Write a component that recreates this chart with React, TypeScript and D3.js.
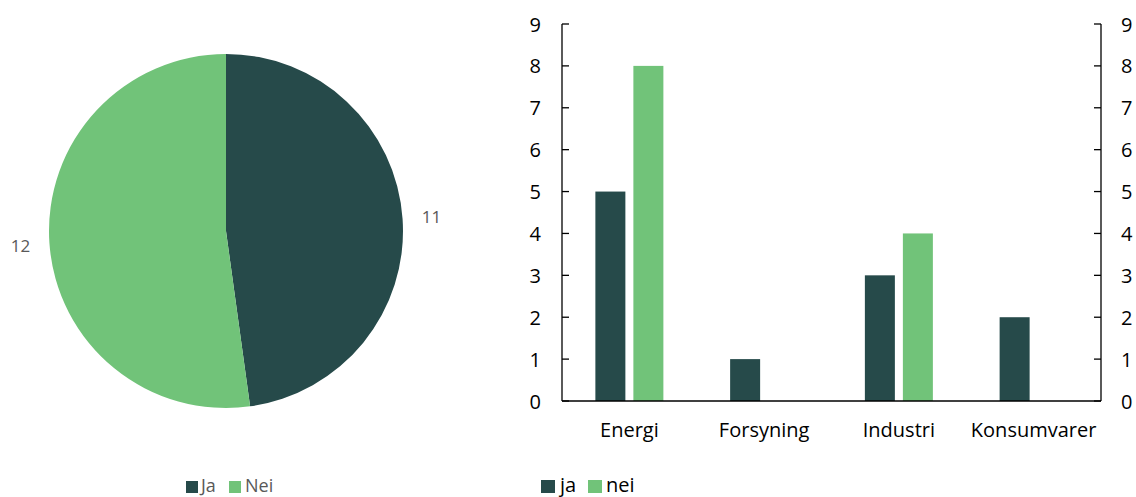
import React from "react";
import * as d3 from "d3";

// Pie: answers overall
const pieLabels = ["Ja", "Nei"];
const pieValues = [11, 12];

// Bars: answers per sector
const sectors = ["Energi", "Forsyning", "Industri", "Konsumvarer"];
const jaValues = [5, 1, 3, 2];
const neiValues = [8, 0, 4, 0];
const seriesNames = ["ja", "nei"];
const yTicks = [0, 1, 2, 3, 4, 5, 6, 7, 8, 9];

const DARK = "#264a4a";
const GREEN = "#71c379";
const W = 1136;
const H = 497;
const FONT = "'Open Sans', sans-serif";

export default function App() {
  // pie geometry
  const cx = 226, cy = 231, r = 177;
  const pie = d3.pie<number>().sort(null).value((d) => d);
  const arcs = pie(pieValues);
  const arcGen = d3.arc<d3.PieArcDatum<number>>().innerRadius(0).outerRadius(r);
  const labelArc = d3.arc<d3.PieArcDatum<number>>().innerRadius(r + 29).outerRadius(r + 29);
  const pieColors = [DARK, GREEN];

  // bar geometry
  const x0 = 562, x1 = 1101, yTop = 24, yBot = 401;
  const x = d3.scaleBand<string>().domain(sectors).range([x0, x1]);
  const y = d3.scaleLinear().domain([0, 9]).range([yBot, yTop]);
  const barW = 30, gap = 8;
  const series = [jaValues, neiValues];

  return (
    <svg width={W} height={H} style={{ position: "absolute", left: 0, top: 0 }}>
      <rect width={W} height={H} fill="#fff" />
      {/* pie */}
      <g transform={`translate(${cx},${cy})`}>
        {arcs.map((a, i) => (
          <path key={i} d={arcGen(a) || ""} fill={pieColors[i]} />
        ))}
        {arcs.map((a, i) => {
          const [lx, ly] = labelArc.centroid(a);
          return (
            <text key={i} x={lx} y={ly} textAnchor="middle" dominantBaseline="central"
              fontFamily={FONT} fontSize={17} fill="#595959">
              {a.data}
            </text>
          );
        })}
      </g>
      {/* pie legend */}
      <g fontFamily={FONT} fontSize={18} fill="#595959">
        <rect x={186} y={481} width={12} height={12} fill={DARK} />
        <text x={201} y={492}>{pieLabels[0]}</text>
        <rect x={229} y={481} width={12} height={12} fill={GREEN} />
        <text x={245} y={492}>{pieLabels[1]}</text>
      </g>

      {/* bars */}
      {sectors.map((s, si) => {
        const c = (x(s) || 0) + x.bandwidth() / 2;
        return series.map((vals, k) => {
          const v = vals[si];
          if (!v) return null;
          const bx = k === 0 ? c - gap / 2 - barW : c + gap / 2;
          return (
            <rect key={`${si}-${k}`} x={bx} y={y(v)} width={barW} height={y(0) - y(v)}
              fill={k === 0 ? DARK : GREEN} />
          );
        });
      })}

      {/* axes */}
      <g stroke="#000" strokeWidth={1.3} fill="none">
        <line x1={x0} y1={yTop} x2={x0} y2={yBot} />
        <line x1={x1} y1={yTop} x2={x1} y2={yBot} />
        <line x1={x0} y1={yBot} x2={x1} y2={yBot} />
        {yTicks.map((t) => (
          <g key={t}>
            <line x1={x0} y1={y(t)} x2={x0 + 7} y2={y(t)} />
            <line x1={x1 - 7} y1={y(t)} x2={x1} y2={y(t)} />
          </g>
        ))}
      </g>
      <g fontFamily={FONT} fontSize={20} fill="#000">
        {yTicks.map((t) => (
          <g key={t}>
            <text x={541} y={y(t)} textAnchor="end" dominantBaseline="central">{t}</text>
            <text x={1121} y={y(t)} textAnchor="start" dominantBaseline="central">{t}</text>
          </g>
        ))}
        {sectors.map((s) => (
          <text key={s} x={(x(s) || 0) + x.bandwidth() / 2} y={437} textAnchor="middle">{s}</text>
        ))}
        <rect x={541} y={480} width={14} height={13} fill={DARK} />
        <text x={560} y={492}>{seriesNames[0]}</text>
        <rect x={588} y={480} width={14} height={13} fill={GREEN} />
        <text x={606} y={492}>{seriesNames[1]}</text>
      </g>
    </svg>
  );
}
